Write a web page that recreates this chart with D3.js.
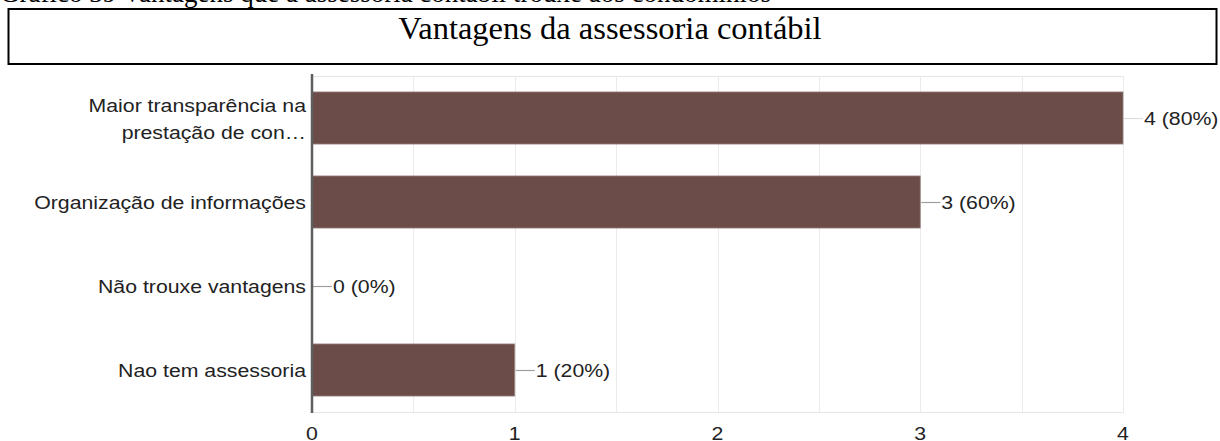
<!DOCTYPE html>
<html>
<head>
<meta charset="utf-8">
<script src="https://cdn.jsdelivr.net/npm/d3@7"></script>
<style>
  html, body { margin: 0; padding: 0; background: #fff; }
  svg { display: block; }
</style>
</head>
<body>
<svg id="chart" width="1220" height="441"></svg>
<script>
// Responses to the multiple-choice question
const categories = [
  ["Maior transparência na", "prestação de con…"],
  ["Organização de informações"],
  ["Não trouxe vantagens"],
  ["Nao tem assessoria"]
];
const counts = [4, 3, 0, 1];
const percents = [80, 60, 0, 20];
const tickValues = [0, 1, 2, 3, 4];
const gridValues = [0.5, 1, 1.5, 2, 2.5, 3, 3.5, 4];

const captionText = "Gráfico 39 Vantagens que a assessoria contábil trouxe aos condomínios";
const titleText = "Vantagens da assessoria contábil";

const svg = d3.select("#chart");

const plot = { left: 312, right: 1123, top: 76, bottom: 412 };
const labelFont = "Arial, 'Liberation Sans', sans-serif";
const labelSize = 18.5;
const stretch = 1.15; // chart text is rendered slightly wide

// Caption above the framed title
svg.append("text")
  .attr("x", 0).attr("y", 2)
  .attr("font-family", "'Liberation Serif', 'Times New Roman', serif")
  .attr("font-size", 27)
  .attr("fill", "#000")
  .text(captionText);

// Title frame
svg.append("rect")
  .attr("x", 8.5).attr("y", 9)
  .attr("width", 1208).attr("height", 55)
  .attr("fill", "none").attr("stroke", "#000").attr("stroke-width", 2);

svg.append("text")
  .attr("x", 610).attr("y", 39)
  .attr("text-anchor", "middle")
  .attr("font-family", "'Liberation Serif', 'Times New Roman', serif")
  .attr("font-size", 32.5)
  .attr("fill", "#000")
  .text(titleText);

const x = d3.scaleLinear().domain([0, 4]).range([plot.left, plot.right]);
const y = d3.scaleBand()
  .domain(d3.range(categories.length))
  .range([plot.top, plot.bottom])
  .paddingInner(0.38).paddingOuter(0.19);

const g = svg.append("g");

// Places a label at (px, py) with the chart's wide text rendering
function label(px, py, anchor) {
  return g.append("text")
    .attr("transform", `translate(${px},${py}) scale(${stretch},1)`)
    .attr("text-anchor", anchor)
    .attr("font-family", labelFont).attr("font-size", labelSize)
    .attr("fill", "#222");
}

// Vertical gridlines
g.selectAll("line.grid")
  .data(gridValues)
  .join("line")
  .attr("class", "grid")
  .attr("x1", d => Math.round(x(d)) + 0.5).attr("x2", d => Math.round(x(d)) + 0.5)
  .attr("y1", plot.top).attr("y2", plot.bottom)
  .attr("stroke", "#ebebeb").attr("stroke-width", 1);

// Top and bottom frame lines
g.selectAll("line.hframe")
  .data([plot.top, plot.bottom])
  .join("line")
  .attr("class", "hframe")
  .attr("x1", plot.left).attr("x2", plot.right + 1)
  .attr("y1", d => d + 0.5).attr("y2", d => d + 0.5)
  .attr("stroke", "#e6e6e6").attr("stroke-width", 1);

// Bars
g.selectAll("rect.bar")
  .data(counts)
  .join("rect")
  .attr("class", "bar")
  .attr("x", x(0))
  .attr("y", (d, i) => y(i))
  .attr("width", d => x(d) - x(0))
  .attr("height", y.bandwidth())
  .attr("fill", "#6c4c48")
  .attr("stroke", d => d > 0 ? "#9a8480" : "none")
  .attr("stroke-width", 0.8);

// Value leader lines and labels
counts.forEach((d, i) => {
  const cy = y(i) + y.bandwidth() / 2;
  g.append("line")
    .attr("x1", x(d) + 1).attr("x2", x(d) + 20)
    .attr("y1", cy + 0.5).attr("y2", cy + 0.5)
    .attr("stroke", d === 4 ? "#dcdcdc" : "#9e9e9e").attr("stroke-width", 1.2);
  label(x(d) + 21, cy + 6.5, "start").text(`${d} (${percents[i]}%)`);
});

// Category labels
categories.forEach((lines, i) => {
  const cy = y(i) + y.bandwidth() / 2;
  const first = lines.length === 1 ? cy + 6.5 : cy - 6.5;
  lines.forEach((ln, k) => {
    label(306, first + k * 27.5, "end").text(ln);
  });
});

// Baseline axis at zero
g.append("line")
  .attr("x1", plot.left).attr("x2", plot.left)
  .attr("y1", plot.top - 2).attr("y2", plot.bottom + 1)
  .attr("stroke", "#5e5e5e").attr("stroke-width", 2.5);

// X tick labels
tickValues.forEach(d => {
  label(x(d), 439.5, "middle").text(d);
});
</script>
</body>
</html>
